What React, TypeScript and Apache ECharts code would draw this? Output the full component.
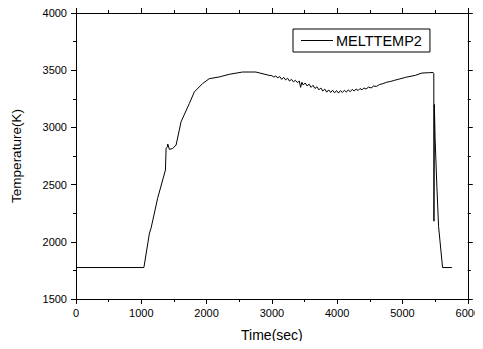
import React, { useEffect, useRef } from "react";
import * as echarts from "echarts";

const timeSec: number[] = [
  0, 1040, 1125, 1150, 1250, 1370, 1380, 1400, 1405, 1430, 1480, 1533, 1609, 1736, 1812, 1939, 2041, 2194,
  2347, 2550, 2754, 2957,
  3000, 3030, 3060, 3090, 3120, 3150, 3180, 3210, 3240, 3270, 3300, 3330, 3360, 3390, 3420, 3440, 3460,
  3480, 3510, 3540, 3570, 3600, 3630, 3660, 3690, 3720, 3750, 3780, 3810, 3840, 3870, 3900, 3930, 3960,
  3990, 4020, 4050, 4080, 4110, 4140, 4170, 4200, 4230, 4260, 4290, 4320, 4350, 4380, 4410, 4440, 4480,
  4520, 4560, 4600, 4650, 4700, 4760, 4820, 4880, 4942, 5050, 5197, 5298, 5400, 5470, 5480, 5482, 5488,
  5500, 5527, 5553, 5614, 5756,
];
const meltTemp2: number[] = [
  1775, 1775, 2076, 2120, 2380, 2628, 2817, 2830, 2855, 2808, 2815, 2846, 3049, 3209, 3310, 3383, 3426, 3441,
  3464, 3484, 3484, 3455,
  3452, 3440, 3450, 3432, 3445, 3420, 3438, 3415, 3430, 3405, 3420, 3398, 3412, 3392, 3405, 3350, 3395,
  3370, 3388, 3362, 3378, 3350, 3368, 3340, 3355, 3328, 3345, 3318, 3335, 3308, 3328, 3305, 3325, 3302,
  3322, 3300, 3322, 3305, 3325, 3308, 3328, 3312, 3332, 3318, 3336, 3322, 3340, 3328, 3345, 3335, 3352,
  3345, 3362, 3358, 3375, 3382, 3395, 3402, 3412, 3421, 3438, 3455, 3475, 3478, 3480, 3470, 2180, 3200,
  2900, 2482, 2133, 1775, 1775,
];
const seriesName = "MELTTEMP2";
const xTitle = "Time(sec)";
const yTitle = "Temperature(K)";

export default function App() {
  const ref = useRef<HTMLDivElement>(null);
  useEffect(() => {
    if (!ref.current) return;
    const chart = echarts.init(ref.current, undefined, { renderer: "svg" });
    const font = "'Liberation Sans', Arial, sans-serif";
    const tickStyle = { show: true, inside: false, length: 5, lineStyle: { color: "#000", width: 1 } };
    const minorStyle = { show: true, splitNumber: 2, length: 3, lineStyle: { color: "#000", width: 1 } };
    const axisCommon = {
      axisLine: { show: true, onZero: false, lineStyle: { color: "#000", width: 1 } },
      splitLine: { show: false },
      axisTick: tickStyle,
      minorTick: minorStyle,
    };
    const plain = (v: number) => String(v);
    chart.setOption({
      animation: false,
      backgroundColor: "#fff",
      grid: { left: 76, right: 14, top: 13, bottom: 50 },
      legend: {
        left: 293,
        top: 29,
        data: [seriesName],
        icon: "rect",
        itemWidth: 32,
        itemHeight: 1,
        itemGap: 4,
        itemStyle: { color: "#000" },
        borderColor: "#000",
        borderWidth: 1,
        borderRadius: 0,
        padding: [4, 8, 4, 8],
        textStyle: { fontFamily: font, fontSize: 14.5, color: "#000", padding: [0, 0, 0, -2] },
      },
      xAxis: [
        {
          type: "value",
          position: "bottom",
          min: 0,
          max: 6000,
          interval: 1000,
          name: xTitle,
          nameLocation: "middle",
          nameGap: 29,
          nameTextStyle: { fontFamily: font, fontSize: 14, color: "#000" },
          axisLabel: { fontFamily: font, fontSize: 11, color: "#000", margin: 8, formatter: plain },
          ...axisCommon,
        },
        {
          type: "value",
          position: "top",
          min: 0,
          max: 6000,
          interval: 1000,
          axisLabel: { show: false },
          ...axisCommon,
        },
      ],
      yAxis: [
        {
          type: "value",
          position: "left",
          min: 1500,
          max: 4000,
          interval: 500,
          name: yTitle,
          nameLocation: "middle",
          nameGap: 53,
          nameTextStyle: { fontFamily: font, fontSize: 13.5, color: "#000" },
          axisLabel: { fontFamily: font, fontSize: 11, color: "#000", margin: 9, formatter: plain },
          ...axisCommon,
        },
        {
          type: "value",
          position: "right",
          min: 1500,
          max: 4000,
          interval: 500,
          axisLabel: { show: false },
          ...axisCommon,
        },
      ],
      series: [
        {
          name: seriesName,
          type: "line",
          xAxisIndex: 0,
          yAxisIndex: 0,
          data: timeSec.map((t, i) => [t, meltTemp2[i]]),
          showSymbol: false,
          symbol: "none",
          lineStyle: { color: "#000", width: 1 },
          itemStyle: { color: "#000" },
        },
      ],
    });
    return () => chart.dispose();
  }, []);
  return <div ref={ref} style={{ width: 483, height: 349, margin: -8 }} />;
}
